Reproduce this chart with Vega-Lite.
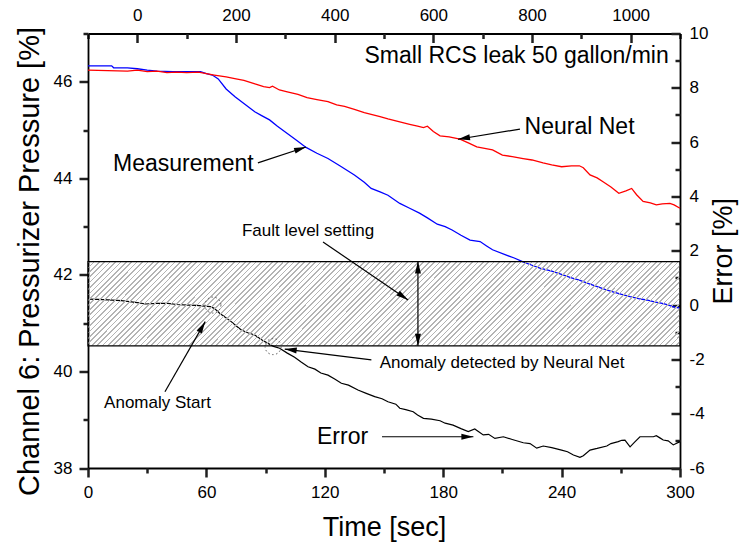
{
  "$schema": "https://vega.github.io/schema/vega-lite/v6.json",
  "width": 592,
  "height": 434.5,
  "autosize": {"type": "none"},
  "padding": {"left": 88, "top": 33.5, "right": 59, "bottom": 76},
  "background": "white",
  "config": {
    "view": {"stroke": null},
    "font": "Liberation Sans",
    "axis": {"domainColor": "black", "domainWidth": 1.8, "labelColor": "black", "labelFontSize": 17, "labelFont": "Liberation Sans", "titleFont": "Liberation Sans", "titleFontSize": 27, "titleFontWeight": "normal", "titleColor": "black", "grid": false, "labelFlush": false, "labelOverlap": false},
    "text": {"font": "Liberation Sans", "color": "black"}
  },
  "datasets": {
    "pressure": [
      {"t":0,"series":"Measurement","v":46.33},{"t":12,"series":"Measurement","v":46.33},{"t":13,"series":"Measurement","v":46.29},{"t":20,"series":"Measurement","v":46.29},{"t":25,"series":"Measurement","v":46.27},{"t":30,"series":"Measurement","v":46.24},{"t":35,"series":"Measurement","v":46.22},{"t":43,"series":"Measurement","v":46.21},{"t":57,"series":"Measurement","v":46.21},{"t":60,"series":"Measurement","v":46.17},{"t":63,"series":"Measurement","v":46.14},{"t":66,"series":"Measurement","v":46.06},{"t":70,"series":"Measurement","v":45.85},{"t":74.5,"series":"Measurement","v":45.69},{"t":80,"series":"Measurement","v":45.52},{"t":84.5,"series":"Measurement","v":45.38},{"t":88,"series":"Measurement","v":45.3},{"t":92,"series":"Measurement","v":45.21},{"t":96,"series":"Measurement","v":45.08},{"t":101,"series":"Measurement","v":44.93},{"t":106,"series":"Measurement","v":44.78},{"t":110.5,"series":"Measurement","v":44.64},{"t":116,"series":"Measurement","v":44.52},{"t":121.6,"series":"Measurement","v":44.41},{"t":128,"series":"Measurement","v":44.25},{"t":135,"series":"Measurement","v":44.07},{"t":140,"series":"Measurement","v":43.92},{"t":143.5,"series":"Measurement","v":43.79},{"t":148,"series":"Measurement","v":43.72},{"t":152,"series":"Measurement","v":43.65},{"t":158,"series":"Measurement","v":43.48},{"t":163,"series":"Measurement","v":43.38},{"t":168,"series":"Measurement","v":43.28},{"t":172,"series":"Measurement","v":43.18},{"t":177,"series":"Measurement","v":43.05},{"t":181,"series":"Measurement","v":43.0},{"t":184.5,"series":"Measurement","v":42.93},{"t":189,"series":"Measurement","v":42.82},{"t":193.6,"series":"Measurement","v":42.72},{"t":198.7,"series":"Measurement","v":42.69},{"t":202,"series":"Measurement","v":42.6},{"t":205,"series":"Measurement","v":42.52},{"t":212,"series":"Measurement","v":42.41},{"t":216,"series":"Measurement","v":42.35},{"t":220.5,"series":"Measurement","v":42.27},{"t":225,"series":"Measurement","v":42.2},{"t":229,"series":"Measurement","v":42.14},{"t":235,"series":"Measurement","v":42.08},{"t":240.7,"series":"Measurement","v":42.0},{"t":245,"series":"Measurement","v":41.94},{"t":249,"series":"Measurement","v":41.89},{"t":253,"series":"Measurement","v":41.83},{"t":257.7,"series":"Measurement","v":41.76},{"t":262,"series":"Measurement","v":41.7},{"t":266,"series":"Measurement","v":41.65},{"t":270,"series":"Measurement","v":41.6},{"t":274.7,"series":"Measurement","v":41.55},{"t":279,"series":"Measurement","v":41.51},{"t":283,"series":"Measurement","v":41.48},{"t":287,"series":"Measurement","v":41.44},{"t":291,"series":"Measurement","v":41.41},{"t":294,"series":"Measurement","v":41.38},{"t":296.5,"series":"Measurement","v":41.34},{"t":300,"series":"Measurement","v":41.31},
      {"t":0,"series":"Neural Net","v":46.24},{"t":10,"series":"Neural Net","v":46.23},{"t":20,"series":"Neural Net","v":46.22},{"t":25,"series":"Neural Net","v":46.24},{"t":30,"series":"Neural Net","v":46.21},{"t":35,"series":"Neural Net","v":46.22},{"t":40,"series":"Neural Net","v":46.19},{"t":45,"series":"Neural Net","v":46.2},{"t":50,"series":"Neural Net","v":46.19},{"t":56,"series":"Neural Net","v":46.2},{"t":60,"series":"Neural Net","v":46.17},{"t":64,"series":"Neural Net","v":46.14},{"t":70,"series":"Neural Net","v":46.1},{"t":75,"series":"Neural Net","v":46.06},{"t":79,"series":"Neural Net","v":46.03},{"t":85,"series":"Neural Net","v":45.95},{"t":89,"series":"Neural Net","v":45.9},{"t":92,"series":"Neural Net","v":45.88},{"t":93.5,"series":"Neural Net","v":45.91},{"t":97,"series":"Neural Net","v":45.83},{"t":101,"series":"Neural Net","v":45.79},{"t":106.4,"series":"Neural Net","v":45.74},{"t":111,"series":"Neural Net","v":45.67},{"t":116,"series":"Neural Net","v":45.63},{"t":121.6,"series":"Neural Net","v":45.59},{"t":126,"series":"Neural Net","v":45.52},{"t":130,"series":"Neural Net","v":45.49},{"t":135,"series":"Neural Net","v":45.43},{"t":140,"series":"Neural Net","v":45.36},{"t":145,"series":"Neural Net","v":45.31},{"t":148,"series":"Neural Net","v":45.28},{"t":152,"series":"Neural Net","v":45.23},{"t":158,"series":"Neural Net","v":45.17},{"t":163,"series":"Neural Net","v":45.12},{"t":167,"series":"Neural Net","v":45.08},{"t":170,"series":"Neural Net","v":45.05},{"t":172,"series":"Neural Net","v":45.08},{"t":175,"series":"Neural Net","v":44.97},{"t":178.4,"series":"Neural Net","v":44.88},{"t":183,"series":"Neural Net","v":44.86},{"t":188.5,"series":"Neural Net","v":44.81},{"t":193,"series":"Neural Net","v":44.73},{"t":197,"series":"Neural Net","v":44.65},{"t":201,"series":"Neural Net","v":44.62},{"t":205,"series":"Neural Net","v":44.59},{"t":210,"series":"Neural Net","v":44.48},{"t":215,"series":"Neural Net","v":44.45},{"t":220.5,"series":"Neural Net","v":44.41},{"t":225,"series":"Neural Net","v":44.38},{"t":230.6,"series":"Neural Net","v":44.32},{"t":235,"series":"Neural Net","v":44.28},{"t":240,"series":"Neural Net","v":44.24},{"t":245,"series":"Neural Net","v":44.26},{"t":249,"series":"Neural Net","v":44.26},{"t":251,"series":"Neural Net","v":44.22},{"t":254.4,"series":"Neural Net","v":44.07},{"t":258,"series":"Neural Net","v":44.01},{"t":261,"series":"Neural Net","v":43.93},{"t":265,"series":"Neural Net","v":43.82},{"t":269,"series":"Neural Net","v":43.69},{"t":272.6,"series":"Neural Net","v":43.74},{"t":275.5,"series":"Neural Net","v":43.79},{"t":278,"series":"Neural Net","v":43.66},{"t":281.3,"series":"Neural Net","v":43.52},{"t":285,"series":"Neural Net","v":43.49},{"t":288,"series":"Neural Net","v":43.45},{"t":291,"series":"Neural Net","v":43.47},{"t":294.9,"series":"Neural Net","v":43.48},{"t":297,"series":"Neural Net","v":43.45},{"t":300,"series":"Neural Net","v":43.38}
    ],
    "err": [
      {"t":0,"e":0.22},{"t":5,"e":0.21},{"t":10,"e":0.19},{"t":17,"e":0.16},{"t":22,"e":0.12},{"t":26,"e":0.08},{"t":29,"e":0.04},{"t":35,"e":0.06},{"t":40.5,"e":0.06},{"t":45,"e":0.02},{"t":50.7,"e":0.0},{"t":55,"e":-0.01},{"t":59,"e":-0.04},{"t":62,"e":-0.06},{"t":64,"e":-0.12},{"t":66.7,"e":-0.3},{"t":69,"e":-0.42},{"t":72.6,"e":-0.61},{"t":75,"e":-0.76},{"t":77.7,"e":-0.92},{"t":81,"e":-1.02},{"t":84.5,"e":-1.1},{"t":88,"e":-1.28},{"t":91.2,"e":-1.41},{"t":94,"e":-1.52},{"t":97.1,"e":-1.59},{"t":101,"e":-1.77},{"t":104.7,"e":-1.92},{"t":108,"e":-2.1},{"t":111.5,"e":-2.27},{"t":115,"e":-2.36},{"t":118,"e":-2.5},{"t":121.6,"e":-2.58},{"t":125,"e":-2.72},{"t":128.4,"e":-2.88},{"t":132,"e":-2.95},{"t":136.8,"e":-3.13},{"t":141,"e":-3.25},{"t":145.3,"e":-3.37},{"t":149,"e":-3.45},{"t":152,"e":-3.56},{"t":156,"e":-3.65},{"t":158,"e":-3.8},{"t":161,"e":-3.85},{"t":164.8,"e":-3.93},{"t":167,"e":-4.05},{"t":170,"e":-4.17},{"t":174,"e":-4.2},{"t":178.4,"e":-4.26},{"t":181,"e":-4.35},{"t":185,"e":-4.42},{"t":189,"e":-4.55},{"t":192.7,"e":-4.66},{"t":196,"e":-4.56},{"t":200.3,"e":-4.78},{"t":203,"e":-4.76},{"t":206.2,"e":-4.91},{"t":210.5,"e":-4.85},{"t":215,"e":-4.95},{"t":220.6,"e":-5.07},{"t":224,"e":-5.1},{"t":227.4,"e":-5.27},{"t":230.7,"e":-5.19},{"t":235,"e":-5.25},{"t":240,"e":-5.34},{"t":243,"e":-5.4},{"t":246,"e":-5.52},{"t":249.3,"e":-5.61},{"t":251,"e":-5.55},{"t":254.4,"e":-5.34},{"t":258,"e":-5.28},{"t":262.9,"e":-5.19},{"t":265,"e":-5.1},{"t":268.7,"e":-5.03},{"t":270.5,"e":-4.98},{"t":272.1,"e":-4.97},{"t":274.7,"e":-5.22},{"t":277,"e":-5.05},{"t":279.7,"e":-4.85},{"t":283,"e":-4.85},{"t":286.5,"e":-4.85},{"t":288,"e":-4.81},{"t":290,"e":-4.9},{"t":291.5,"e":-4.97},{"t":294,"e":-5.0},{"t":296.6,"e":-5.15},{"t":300,"e":-5.03}
    ],
    "notesP": [
      {"label":"Small RCS leak 50 gallon/min","t":217.2,"v":46.53},
      {"label":"Measurement","t":48.3,"v":44.3},
      {"label":"Neural Net","t":249.1,"v":45.07}
    ],
    "arrowsP": [
      {"id":"meas","t":86.1,"v":44.32,"t2":110.5,"v2":44.65},
      {"id":"nn","t":218.9,"v":45.02,"t2":187.5,"v2":44.81}
    ],
    "notesE": [
      {"label":"Fault level setting","t":111.5,"e":2.74},
      {"label":"Anomaly Start","t":35.2,"e":-3.62},
      {"label":"Anomaly detected by Neural Net","t":209.8,"e":-2.15}
    ],
    "notesE2": [
      {"label":"Error","t":129.0,"e":-4.87}
    ],
    "arrowsE": [
      {"id":"fault","t":119.1,"e":2.32,"t2":162.2,"e2":0.19},
      {"id":"band","t":167.2,"e":1.6,"t2":167.2,"e2":-1.5},
      {"id":"start","t":39.0,"e":-3.19,"t2":59.4,"e2":-0.61},
      {"id":"detect","t":143.6,"e":-2.02,"t2":99.7,"e2":-1.62},
      {"id":"error","t":149.0,"e":-4.85,"t2":195.3,"e2":-4.85}
    ],
    "band": [
      {"t":0,"t2":300,"e":-1.5,"e2":1.6}
    ],
    "events": [
      {"event":"Anomaly start","t":63.3,"e":0.0},
      {"event":"Anomaly detected","t":93.8,"e":-1.53}
    ],
    "frame": [
      {"t":0,"v":38,"e":-6,"k":-100}
    ]
  },
  "resolve": {"scale": {"x": "independent", "y": "independent"}, "axis": {"x": "independent", "y": "independent"}},
  "layer": [
    {
      "data": {"name": "pressure"},
      "encoding": {
        "x": {"field": "t", "type": "quantitative", "scale": {"domain": [0, 300], "nice": false, "zero": false},
          "axis": {"orient": "bottom", "title": "Time [sec]", "values": [0,60,120,180,240,300], "labelExpr": "'' + datum.value", "ticks": true, "tickSize": 9, "tickColor": "#202020", "tickWidth": 2.5, "labelPadding": 7, "titlePadding": 14}},
        "y": {"field": "v", "type": "quantitative", "scale": {"domain": [38, 47], "nice": false, "zero": false},
          "axis": {"orient": "left", "title": "Channel 6: Pressurizer Pressure [%]", "titleFontSize": 29, "titleY": 227.5, "values": [38,40,42,44,46], "labelExpr": "'' + datum.value", "ticks": true, "tickSize": 9, "tickColor": "#202020", "tickWidth": 2.5, "labelPadding": 7, "titlePadding": 9}}
      },
      "layer": [
        {"mark": {"type": "line", "strokeWidth": 1.3},
          "encoding": {"color": {"field": "series", "type": "nominal", "scale": {"domain": ["Measurement", "Neural Net"], "range": ["#0000ff", "#ff0000"]}, "legend": null}}},
        {"data": {"name": "notesP"}, "mark": {"type": "text", "fontSize": 23, "align": "center", "baseline": "middle", "color": "black"},
          "encoding": {"text": {"field": "label"}}},
        {"data": {"name": "arrowsP"}, "mark": {"type": "rule", "color": "black", "strokeWidth": 1.2},
          "encoding": {"x2": {"field": "t2"}, "y2": {"field": "v2"}}},
        {"data": {"name": "arrowsP"}, "transform": [{"filter": "datum.id === 'meas'"}],
          "mark": {"type": "point", "shape": "M0,0L-1,-0.25L-1,0.25Z", "size": 576, "filled": true, "color": "black", "opacity": 1, "angle": -18.4},
          "encoding": {"x": {"field": "t2", "type": "quantitative"}, "y": {"field": "v2", "type": "quantitative"}}},
        {"data": {"name": "arrowsP"}, "transform": [{"filter": "datum.id === 'nn'"}],
          "mark": {"type": "point", "shape": "M0,0L-1,-0.25L-1,0.25Z", "size": 576, "filled": true, "color": "black", "opacity": 1, "angle": 170.8},
          "encoding": {"x": {"field": "t2", "type": "quantitative"}, "y": {"field": "v2", "type": "quantitative"}}}
      ]
    },
    {
      "data": {"name": "err"},
      "encoding": {
        "x": {"field": "t", "type": "quantitative", "scale": {"domain": [0, 300], "nice": false, "zero": false}, "axis": null},
        "y": {"field": "e", "type": "quantitative", "scale": {"domain": [-6, 10], "nice": false, "zero": false},
          "axis": {"orient": "right", "title": "Error [%]", "titleAngle": -90, "titleBaseline": "top", "values": [-6,-4,-2,0,2,4,6,8,10], "labelExpr": "'' + datum.value", "ticks": true, "tickSize": -9, "tickColor": "#202020", "tickWidth": 2.5, "labelPadding": 18, "titlePadding": 3}}
      },
      "layer": [
        {"mark": {"type": "line", "color": "black", "strokeWidth": 1.2}},
        {"data": {"name": "band"},
          "mark": {"type": "rect", "stroke": "black", "strokeWidth": 1.2,
            "fill": {"gradient": "linear", "x1": 0, "y1": 0, "x2": 1.1194, "y2": 0.1588, "stops": [
{"offset":0,"color":"#b4b4b4"},{"offset":0.0025,"color":"#b4b4b4"},{"offset":0.0025,"color":"#0000"},{"offset":0.008,"color":"#0000"},
{"offset":0.008,"color":"#b4b4b4"},{"offset":0.0105,"color":"#b4b4b4"},{"offset":0.0105,"color":"#0000"},{"offset":0.016,"color":"#0000"},
{"offset":0.016,"color":"#b4b4b4"},{"offset":0.0185,"color":"#b4b4b4"},{"offset":0.0185,"color":"#0000"},{"offset":0.024,"color":"#0000"},
{"offset":0.024,"color":"#b4b4b4"},{"offset":0.0265,"color":"#b4b4b4"},{"offset":0.0265,"color":"#0000"},{"offset":0.032,"color":"#0000"},
{"offset":0.032,"color":"#b4b4b4"},{"offset":0.0345,"color":"#b4b4b4"},{"offset":0.0345,"color":"#0000"},{"offset":0.04,"color":"#0000"},
{"offset":0.04,"color":"#b4b4b4"},{"offset":0.0425,"color":"#b4b4b4"},{"offset":0.0425,"color":"#0000"},{"offset":0.048,"color":"#0000"},
{"offset":0.048,"color":"#b4b4b4"},{"offset":0.0505,"color":"#b4b4b4"},{"offset":0.0505,"color":"#0000"},{"offset":0.056,"color":"#0000"},
{"offset":0.056,"color":"#b4b4b4"},{"offset":0.0585,"color":"#b4b4b4"},{"offset":0.0585,"color":"#0000"},{"offset":0.064,"color":"#0000"},
{"offset":0.064,"color":"#b4b4b4"},{"offset":0.0665,"color":"#b4b4b4"},{"offset":0.0665,"color":"#0000"},{"offset":0.072,"color":"#0000"},
{"offset":0.072,"color":"#b4b4b4"},{"offset":0.0745,"color":"#b4b4b4"},{"offset":0.0745,"color":"#0000"},{"offset":0.08,"color":"#0000"},
{"offset":0.08,"color":"#b4b4b4"},{"offset":0.0825,"color":"#b4b4b4"},{"offset":0.0825,"color":"#0000"},{"offset":0.088,"color":"#0000"},
{"offset":0.088,"color":"#b4b4b4"},{"offset":0.0905,"color":"#b4b4b4"},{"offset":0.0905,"color":"#0000"},{"offset":0.096,"color":"#0000"},
{"offset":0.096,"color":"#b4b4b4"},{"offset":0.0985,"color":"#b4b4b4"},{"offset":0.0985,"color":"#0000"},{"offset":0.104,"color":"#0000"},
{"offset":0.104,"color":"#b4b4b4"},{"offset":0.1065,"color":"#b4b4b4"},{"offset":0.1065,"color":"#0000"},{"offset":0.112,"color":"#0000"},
{"offset":0.112,"color":"#b4b4b4"},{"offset":0.1145,"color":"#b4b4b4"},{"offset":0.1145,"color":"#0000"},{"offset":0.12,"color":"#0000"},
{"offset":0.12,"color":"#b4b4b4"},{"offset":0.1225,"color":"#b4b4b4"},{"offset":0.1225,"color":"#0000"},{"offset":0.128,"color":"#0000"},
{"offset":0.128,"color":"#b4b4b4"},{"offset":0.1305,"color":"#b4b4b4"},{"offset":0.1305,"color":"#0000"},{"offset":0.136,"color":"#0000"},
{"offset":0.136,"color":"#b4b4b4"},{"offset":0.1385,"color":"#b4b4b4"},{"offset":0.1385,"color":"#0000"},{"offset":0.144,"color":"#0000"},
{"offset":0.144,"color":"#b4b4b4"},{"offset":0.1465,"color":"#b4b4b4"},{"offset":0.1465,"color":"#0000"},{"offset":0.152,"color":"#0000"},
{"offset":0.152,"color":"#b4b4b4"},{"offset":0.1545,"color":"#b4b4b4"},{"offset":0.1545,"color":"#0000"},{"offset":0.16,"color":"#0000"},
{"offset":0.16,"color":"#b4b4b4"},{"offset":0.1625,"color":"#b4b4b4"},{"offset":0.1625,"color":"#0000"},{"offset":0.168,"color":"#0000"},
{"offset":0.168,"color":"#b4b4b4"},{"offset":0.1705,"color":"#b4b4b4"},{"offset":0.1705,"color":"#0000"},{"offset":0.176,"color":"#0000"},
{"offset":0.176,"color":"#b4b4b4"},{"offset":0.1785,"color":"#b4b4b4"},{"offset":0.1785,"color":"#0000"},{"offset":0.184,"color":"#0000"},
{"offset":0.184,"color":"#b4b4b4"},{"offset":0.1865,"color":"#b4b4b4"},{"offset":0.1865,"color":"#0000"},{"offset":0.192,"color":"#0000"},
{"offset":0.192,"color":"#b4b4b4"},{"offset":0.1945,"color":"#b4b4b4"},{"offset":0.1945,"color":"#0000"},{"offset":0.2,"color":"#0000"},
{"offset":0.2,"color":"#b4b4b4"},{"offset":0.2025,"color":"#b4b4b4"},{"offset":0.2025,"color":"#0000"},{"offset":0.208,"color":"#0000"},
{"offset":0.208,"color":"#b4b4b4"},{"offset":0.2105,"color":"#b4b4b4"},{"offset":0.2105,"color":"#0000"},{"offset":0.216,"color":"#0000"},
{"offset":0.216,"color":"#b4b4b4"},{"offset":0.2185,"color":"#b4b4b4"},{"offset":0.2185,"color":"#0000"},{"offset":0.224,"color":"#0000"},
{"offset":0.224,"color":"#b4b4b4"},{"offset":0.2265,"color":"#b4b4b4"},{"offset":0.2265,"color":"#0000"},{"offset":0.232,"color":"#0000"},
{"offset":0.232,"color":"#b4b4b4"},{"offset":0.2345,"color":"#b4b4b4"},{"offset":0.2345,"color":"#0000"},{"offset":0.24,"color":"#0000"},
{"offset":0.24,"color":"#b4b4b4"},{"offset":0.2425,"color":"#b4b4b4"},{"offset":0.2425,"color":"#0000"},{"offset":0.248,"color":"#0000"},
{"offset":0.248,"color":"#b4b4b4"},{"offset":0.2505,"color":"#b4b4b4"},{"offset":0.2505,"color":"#0000"},{"offset":0.256,"color":"#0000"},
{"offset":0.256,"color":"#b4b4b4"},{"offset":0.2585,"color":"#b4b4b4"},{"offset":0.2585,"color":"#0000"},{"offset":0.264,"color":"#0000"},
{"offset":0.264,"color":"#b4b4b4"},{"offset":0.2665,"color":"#b4b4b4"},{"offset":0.2665,"color":"#0000"},{"offset":0.272,"color":"#0000"},
{"offset":0.272,"color":"#b4b4b4"},{"offset":0.2745,"color":"#b4b4b4"},{"offset":0.2745,"color":"#0000"},{"offset":0.28,"color":"#0000"},
{"offset":0.28,"color":"#b4b4b4"},{"offset":0.2825,"color":"#b4b4b4"},{"offset":0.2825,"color":"#0000"},{"offset":0.288,"color":"#0000"},
{"offset":0.288,"color":"#b4b4b4"},{"offset":0.2905,"color":"#b4b4b4"},{"offset":0.2905,"color":"#0000"},{"offset":0.296,"color":"#0000"},
{"offset":0.296,"color":"#b4b4b4"},{"offset":0.2985,"color":"#b4b4b4"},{"offset":0.2985,"color":"#0000"},{"offset":0.304,"color":"#0000"},
{"offset":0.304,"color":"#b4b4b4"},{"offset":0.3065,"color":"#b4b4b4"},{"offset":0.3065,"color":"#0000"},{"offset":0.312,"color":"#0000"},
{"offset":0.312,"color":"#b4b4b4"},{"offset":0.3145,"color":"#b4b4b4"},{"offset":0.3145,"color":"#0000"},{"offset":0.32,"color":"#0000"},
{"offset":0.32,"color":"#b4b4b4"},{"offset":0.3225,"color":"#b4b4b4"},{"offset":0.3225,"color":"#0000"},{"offset":0.328,"color":"#0000"},
{"offset":0.328,"color":"#b4b4b4"},{"offset":0.3305,"color":"#b4b4b4"},{"offset":0.3305,"color":"#0000"},{"offset":0.336,"color":"#0000"},
{"offset":0.336,"color":"#b4b4b4"},{"offset":0.3385,"color":"#b4b4b4"},{"offset":0.3385,"color":"#0000"},{"offset":0.344,"color":"#0000"},
{"offset":0.344,"color":"#b4b4b4"},{"offset":0.3465,"color":"#b4b4b4"},{"offset":0.3465,"color":"#0000"},{"offset":0.352,"color":"#0000"},
{"offset":0.352,"color":"#b4b4b4"},{"offset":0.3545,"color":"#b4b4b4"},{"offset":0.3545,"color":"#0000"},{"offset":0.36,"color":"#0000"},
{"offset":0.36,"color":"#b4b4b4"},{"offset":0.3625,"color":"#b4b4b4"},{"offset":0.3625,"color":"#0000"},{"offset":0.368,"color":"#0000"},
{"offset":0.368,"color":"#b4b4b4"},{"offset":0.3705,"color":"#b4b4b4"},{"offset":0.3705,"color":"#0000"},{"offset":0.376,"color":"#0000"},
{"offset":0.376,"color":"#b4b4b4"},{"offset":0.3785,"color":"#b4b4b4"},{"offset":0.3785,"color":"#0000"},{"offset":0.384,"color":"#0000"},
{"offset":0.384,"color":"#b4b4b4"},{"offset":0.3865,"color":"#b4b4b4"},{"offset":0.3865,"color":"#0000"},{"offset":0.392,"color":"#0000"},
{"offset":0.392,"color":"#b4b4b4"},{"offset":0.3945,"color":"#b4b4b4"},{"offset":0.3945,"color":"#0000"},{"offset":0.4,"color":"#0000"},
{"offset":0.4,"color":"#b4b4b4"},{"offset":0.4025,"color":"#b4b4b4"},{"offset":0.4025,"color":"#0000"},{"offset":0.408,"color":"#0000"},
{"offset":0.408,"color":"#b4b4b4"},{"offset":0.4105,"color":"#b4b4b4"},{"offset":0.4105,"color":"#0000"},{"offset":0.416,"color":"#0000"},
{"offset":0.416,"color":"#b4b4b4"},{"offset":0.4185,"color":"#b4b4b4"},{"offset":0.4185,"color":"#0000"},{"offset":0.424,"color":"#0000"},
{"offset":0.424,"color":"#b4b4b4"},{"offset":0.4265,"color":"#b4b4b4"},{"offset":0.4265,"color":"#0000"},{"offset":0.432,"color":"#0000"},
{"offset":0.432,"color":"#b4b4b4"},{"offset":0.4345,"color":"#b4b4b4"},{"offset":0.4345,"color":"#0000"},{"offset":0.44,"color":"#0000"},
{"offset":0.44,"color":"#b4b4b4"},{"offset":0.4425,"color":"#b4b4b4"},{"offset":0.4425,"color":"#0000"},{"offset":0.448,"color":"#0000"},
{"offset":0.448,"color":"#b4b4b4"},{"offset":0.4505,"color":"#b4b4b4"},{"offset":0.4505,"color":"#0000"},{"offset":0.456,"color":"#0000"},
{"offset":0.456,"color":"#b4b4b4"},{"offset":0.4585,"color":"#b4b4b4"},{"offset":0.4585,"color":"#0000"},{"offset":0.464,"color":"#0000"},
{"offset":0.464,"color":"#b4b4b4"},{"offset":0.4665,"color":"#b4b4b4"},{"offset":0.4665,"color":"#0000"},{"offset":0.472,"color":"#0000"},
{"offset":0.472,"color":"#b4b4b4"},{"offset":0.4745,"color":"#b4b4b4"},{"offset":0.4745,"color":"#0000"},{"offset":0.48,"color":"#0000"},
{"offset":0.48,"color":"#b4b4b4"},{"offset":0.4825,"color":"#b4b4b4"},{"offset":0.4825,"color":"#0000"},{"offset":0.488,"color":"#0000"},
{"offset":0.488,"color":"#b4b4b4"},{"offset":0.4905,"color":"#b4b4b4"},{"offset":0.4905,"color":"#0000"},{"offset":0.496,"color":"#0000"},
{"offset":0.496,"color":"#b4b4b4"},{"offset":0.4985,"color":"#b4b4b4"},{"offset":0.4985,"color":"#0000"},{"offset":0.504,"color":"#0000"},
{"offset":0.504,"color":"#b4b4b4"},{"offset":0.5065,"color":"#b4b4b4"},{"offset":0.5065,"color":"#0000"},{"offset":0.512,"color":"#0000"},
{"offset":0.512,"color":"#b4b4b4"},{"offset":0.5145,"color":"#b4b4b4"},{"offset":0.5145,"color":"#0000"},{"offset":0.52,"color":"#0000"},
{"offset":0.52,"color":"#b4b4b4"},{"offset":0.5225,"color":"#b4b4b4"},{"offset":0.5225,"color":"#0000"},{"offset":0.528,"color":"#0000"},
{"offset":0.528,"color":"#b4b4b4"},{"offset":0.5305,"color":"#b4b4b4"},{"offset":0.5305,"color":"#0000"},{"offset":0.536,"color":"#0000"},
{"offset":0.536,"color":"#b4b4b4"},{"offset":0.5385,"color":"#b4b4b4"},{"offset":0.5385,"color":"#0000"},{"offset":0.544,"color":"#0000"},
{"offset":0.544,"color":"#b4b4b4"},{"offset":0.5465,"color":"#b4b4b4"},{"offset":0.5465,"color":"#0000"},{"offset":0.552,"color":"#0000"},
{"offset":0.552,"color":"#b4b4b4"},{"offset":0.5545,"color":"#b4b4b4"},{"offset":0.5545,"color":"#0000"},{"offset":0.56,"color":"#0000"},
{"offset":0.56,"color":"#b4b4b4"},{"offset":0.5625,"color":"#b4b4b4"},{"offset":0.5625,"color":"#0000"},{"offset":0.568,"color":"#0000"},
{"offset":0.568,"color":"#b4b4b4"},{"offset":0.5705,"color":"#b4b4b4"},{"offset":0.5705,"color":"#0000"},{"offset":0.576,"color":"#0000"},
{"offset":0.576,"color":"#b4b4b4"},{"offset":0.5785,"color":"#b4b4b4"},{"offset":0.5785,"color":"#0000"},{"offset":0.584,"color":"#0000"},
{"offset":0.584,"color":"#b4b4b4"},{"offset":0.5865,"color":"#b4b4b4"},{"offset":0.5865,"color":"#0000"},{"offset":0.592,"color":"#0000"},
{"offset":0.592,"color":"#b4b4b4"},{"offset":0.5945,"color":"#b4b4b4"},{"offset":0.5945,"color":"#0000"},{"offset":0.6,"color":"#0000"},
{"offset":0.6,"color":"#b4b4b4"},{"offset":0.6025,"color":"#b4b4b4"},{"offset":0.6025,"color":"#0000"},{"offset":0.608,"color":"#0000"},
{"offset":0.608,"color":"#b4b4b4"},{"offset":0.6105,"color":"#b4b4b4"},{"offset":0.6105,"color":"#0000"},{"offset":0.616,"color":"#0000"},
{"offset":0.616,"color":"#b4b4b4"},{"offset":0.6185,"color":"#b4b4b4"},{"offset":0.6185,"color":"#0000"},{"offset":0.624,"color":"#0000"},
{"offset":0.624,"color":"#b4b4b4"},{"offset":0.6265,"color":"#b4b4b4"},{"offset":0.6265,"color":"#0000"},{"offset":0.632,"color":"#0000"},
{"offset":0.632,"color":"#b4b4b4"},{"offset":0.6345,"color":"#b4b4b4"},{"offset":0.6345,"color":"#0000"},{"offset":0.64,"color":"#0000"},
{"offset":0.64,"color":"#b4b4b4"},{"offset":0.6425,"color":"#b4b4b4"},{"offset":0.6425,"color":"#0000"},{"offset":0.648,"color":"#0000"},
{"offset":0.648,"color":"#b4b4b4"},{"offset":0.6505,"color":"#b4b4b4"},{"offset":0.6505,"color":"#0000"},{"offset":0.656,"color":"#0000"},
{"offset":0.656,"color":"#b4b4b4"},{"offset":0.6585,"color":"#b4b4b4"},{"offset":0.6585,"color":"#0000"},{"offset":0.664,"color":"#0000"},
{"offset":0.664,"color":"#b4b4b4"},{"offset":0.6665,"color":"#b4b4b4"},{"offset":0.6665,"color":"#0000"},{"offset":0.672,"color":"#0000"},
{"offset":0.672,"color":"#b4b4b4"},{"offset":0.6745,"color":"#b4b4b4"},{"offset":0.6745,"color":"#0000"},{"offset":0.68,"color":"#0000"},
{"offset":0.68,"color":"#b4b4b4"},{"offset":0.6825,"color":"#b4b4b4"},{"offset":0.6825,"color":"#0000"},{"offset":0.688,"color":"#0000"},
{"offset":0.688,"color":"#b4b4b4"},{"offset":0.6905,"color":"#b4b4b4"},{"offset":0.6905,"color":"#0000"},{"offset":0.696,"color":"#0000"},
{"offset":0.696,"color":"#b4b4b4"},{"offset":0.6985,"color":"#b4b4b4"},{"offset":0.6985,"color":"#0000"},{"offset":0.704,"color":"#0000"},
{"offset":0.704,"color":"#b4b4b4"},{"offset":0.7065,"color":"#b4b4b4"},{"offset":0.7065,"color":"#0000"},{"offset":0.712,"color":"#0000"},
{"offset":0.712,"color":"#b4b4b4"},{"offset":0.7145,"color":"#b4b4b4"},{"offset":0.7145,"color":"#0000"},{"offset":0.72,"color":"#0000"},
{"offset":0.72,"color":"#b4b4b4"},{"offset":0.7225,"color":"#b4b4b4"},{"offset":0.7225,"color":"#0000"},{"offset":0.728,"color":"#0000"},
{"offset":0.728,"color":"#b4b4b4"},{"offset":0.7305,"color":"#b4b4b4"},{"offset":0.7305,"color":"#0000"},{"offset":0.736,"color":"#0000"},
{"offset":0.736,"color":"#b4b4b4"},{"offset":0.7385,"color":"#b4b4b4"},{"offset":0.7385,"color":"#0000"},{"offset":0.744,"color":"#0000"},
{"offset":0.744,"color":"#b4b4b4"},{"offset":0.7465,"color":"#b4b4b4"},{"offset":0.7465,"color":"#0000"},{"offset":0.752,"color":"#0000"},
{"offset":0.752,"color":"#b4b4b4"},{"offset":0.7545,"color":"#b4b4b4"},{"offset":0.7545,"color":"#0000"},{"offset":0.76,"color":"#0000"},
{"offset":0.76,"color":"#b4b4b4"},{"offset":0.7625,"color":"#b4b4b4"},{"offset":0.7625,"color":"#0000"},{"offset":0.768,"color":"#0000"},
{"offset":0.768,"color":"#b4b4b4"},{"offset":0.7705,"color":"#b4b4b4"},{"offset":0.7705,"color":"#0000"},{"offset":0.776,"color":"#0000"},
{"offset":0.776,"color":"#b4b4b4"},{"offset":0.7785,"color":"#b4b4b4"},{"offset":0.7785,"color":"#0000"},{"offset":0.784,"color":"#0000"},
{"offset":0.784,"color":"#b4b4b4"},{"offset":0.7865,"color":"#b4b4b4"},{"offset":0.7865,"color":"#0000"},{"offset":0.792,"color":"#0000"},
{"offset":0.792,"color":"#b4b4b4"},{"offset":0.7945,"color":"#b4b4b4"},{"offset":0.7945,"color":"#0000"},{"offset":0.8,"color":"#0000"},
{"offset":0.8,"color":"#b4b4b4"},{"offset":0.8025,"color":"#b4b4b4"},{"offset":0.8025,"color":"#0000"},{"offset":0.808,"color":"#0000"},
{"offset":0.808,"color":"#b4b4b4"},{"offset":0.8105,"color":"#b4b4b4"},{"offset":0.8105,"color":"#0000"},{"offset":0.816,"color":"#0000"},
{"offset":0.816,"color":"#b4b4b4"},{"offset":0.8185,"color":"#b4b4b4"},{"offset":0.8185,"color":"#0000"},{"offset":0.824,"color":"#0000"},
{"offset":0.824,"color":"#b4b4b4"},{"offset":0.8265,"color":"#b4b4b4"},{"offset":0.8265,"color":"#0000"},{"offset":0.832,"color":"#0000"},
{"offset":0.832,"color":"#b4b4b4"},{"offset":0.8345,"color":"#b4b4b4"},{"offset":0.8345,"color":"#0000"},{"offset":0.84,"color":"#0000"},
{"offset":0.84,"color":"#b4b4b4"},{"offset":0.8425,"color":"#b4b4b4"},{"offset":0.8425,"color":"#0000"},{"offset":0.848,"color":"#0000"},
{"offset":0.848,"color":"#b4b4b4"},{"offset":0.8505,"color":"#b4b4b4"},{"offset":0.8505,"color":"#0000"},{"offset":0.856,"color":"#0000"},
{"offset":0.856,"color":"#b4b4b4"},{"offset":0.8585,"color":"#b4b4b4"},{"offset":0.8585,"color":"#0000"},{"offset":0.864,"color":"#0000"},
{"offset":0.864,"color":"#b4b4b4"},{"offset":0.8665,"color":"#b4b4b4"},{"offset":0.8665,"color":"#0000"},{"offset":0.872,"color":"#0000"},
{"offset":0.872,"color":"#b4b4b4"},{"offset":0.8745,"color":"#b4b4b4"},{"offset":0.8745,"color":"#0000"},{"offset":0.88,"color":"#0000"},
{"offset":0.88,"color":"#b4b4b4"},{"offset":0.8825,"color":"#b4b4b4"},{"offset":0.8825,"color":"#0000"},{"offset":0.888,"color":"#0000"},
{"offset":0.888,"color":"#b4b4b4"},{"offset":0.8905,"color":"#b4b4b4"},{"offset":0.8905,"color":"#0000"},{"offset":0.896,"color":"#0000"},
{"offset":0.896,"color":"#b4b4b4"},{"offset":0.8985,"color":"#b4b4b4"},{"offset":0.8985,"color":"#0000"},{"offset":0.904,"color":"#0000"},
{"offset":0.904,"color":"#b4b4b4"},{"offset":0.9065,"color":"#b4b4b4"},{"offset":0.9065,"color":"#0000"},{"offset":0.912,"color":"#0000"},
{"offset":0.912,"color":"#b4b4b4"},{"offset":0.9145,"color":"#b4b4b4"},{"offset":0.9145,"color":"#0000"},{"offset":0.92,"color":"#0000"},
{"offset":0.92,"color":"#b4b4b4"},{"offset":0.9225,"color":"#b4b4b4"},{"offset":0.9225,"color":"#0000"},{"offset":0.928,"color":"#0000"},
{"offset":0.928,"color":"#b4b4b4"},{"offset":0.9305,"color":"#b4b4b4"},{"offset":0.9305,"color":"#0000"},{"offset":0.936,"color":"#0000"},
{"offset":0.936,"color":"#b4b4b4"},{"offset":0.9385,"color":"#b4b4b4"},{"offset":0.9385,"color":"#0000"},{"offset":0.944,"color":"#0000"},
{"offset":0.944,"color":"#b4b4b4"},{"offset":0.9465,"color":"#b4b4b4"},{"offset":0.9465,"color":"#0000"},{"offset":0.952,"color":"#0000"},
{"offset":0.952,"color":"#b4b4b4"},{"offset":0.9545,"color":"#b4b4b4"},{"offset":0.9545,"color":"#0000"},{"offset":0.96,"color":"#0000"},
{"offset":0.96,"color":"#b4b4b4"},{"offset":0.9625,"color":"#b4b4b4"},{"offset":0.9625,"color":"#0000"},{"offset":0.968,"color":"#0000"},
{"offset":0.968,"color":"#b4b4b4"},{"offset":0.9705,"color":"#b4b4b4"},{"offset":0.9705,"color":"#0000"},{"offset":0.976,"color":"#0000"},
{"offset":0.976,"color":"#b4b4b4"},{"offset":0.9785,"color":"#b4b4b4"},{"offset":0.9785,"color":"#0000"},{"offset":0.984,"color":"#0000"},
{"offset":0.984,"color":"#b4b4b4"},{"offset":0.9865,"color":"#b4b4b4"},{"offset":0.9865,"color":"#0000"},{"offset":0.992,"color":"#0000"},
{"offset":0.992,"color":"#b4b4b4"},{"offset":0.9945,"color":"#b4b4b4"},{"offset":0.9945,"color":"#0000"},{"offset":1,"color":"#0000"}
            ]}},
          "encoding": {"x2": {"field": "t2"}, "y2": {"field": "e2"}}},
        {"data": {"name": "arrowsE"}, "mark": {"type": "rule", "color": "black", "strokeWidth": 1.2},
          "encoding": {"x2": {"field": "t2"}, "y2": {"field": "e2"}}},
        {"data": {"name": "arrowsE"}, "transform": [{"filter": "datum.id === 'fault'"}],
          "mark": {"type": "point", "shape": "M0,0L-1,-0.25L-1,0.25Z", "size": 576, "filled": true, "color": "black", "opacity": 1, "angle": 34.3},
          "encoding": {"x": {"field": "t2", "type": "quantitative"}, "y": {"field": "e2", "type": "quantitative"}}},
        {"data": {"name": "arrowsE"}, "transform": [{"filter": "datum.id === 'band'"}],
          "mark": {"type": "point", "shape": "M0,0L-1,-0.25L-1,0.25Z", "size": 576, "filled": true, "color": "black", "opacity": 1, "angle": -90}},
        {"data": {"name": "arrowsE"}, "transform": [{"filter": "datum.id === 'band'"}],
          "mark": {"type": "point", "shape": "M0,0L-1,-0.25L-1,0.25Z", "size": 576, "filled": true, "color": "black", "opacity": 1, "angle": 90},
          "encoding": {"x": {"field": "t2", "type": "quantitative"}, "y": {"field": "e2", "type": "quantitative"}}},
        {"data": {"name": "arrowsE"}, "transform": [{"filter": "datum.id === 'start'"}],
          "mark": {"type": "point", "shape": "M0,0L-1,-0.25L-1,0.25Z", "size": 576, "filled": true, "color": "black", "opacity": 1, "angle": -60},
          "encoding": {"x": {"field": "t2", "type": "quantitative"}, "y": {"field": "e2", "type": "quantitative"}}},
        {"data": {"name": "arrowsE"}, "transform": [{"filter": "datum.id === 'detect'"}],
          "mark": {"type": "point", "shape": "M0,0L-1,-0.25L-1,0.25Z", "size": 576, "filled": true, "color": "black", "opacity": 1, "angle": 187.2},
          "encoding": {"x": {"field": "t2", "type": "quantitative"}, "y": {"field": "e2", "type": "quantitative"}}},
        {"data": {"name": "arrowsE"}, "transform": [{"filter": "datum.id === 'error'"}],
          "mark": {"type": "point", "shape": "M0,0L-1,-0.25L-1,0.25Z", "size": 576, "filled": true, "color": "black", "opacity": 1, "angle": 0},
          "encoding": {"x": {"field": "t2", "type": "quantitative"}, "y": {"field": "e2", "type": "quantitative"}}},
        {"data": {"name": "events"}, "mark": {"type": "point", "shape": "circle", "size": 256, "filled": false, "color": "#555", "strokeWidth": 1, "strokeDash": [1.5, 2.5], "opacity": 1}},
        {"data": {"name": "notesE"}, "mark": {"type": "text", "fontSize": 17, "align": "center", "baseline": "middle", "color": "black"},
          "encoding": {"text": {"field": "label"}}},
        {"data": {"name": "notesE2"}, "mark": {"type": "text", "fontSize": 23, "align": "center", "baseline": "middle", "color": "black"},
          "encoding": {"text": {"field": "label"}}}
      ]
    },
    {
      "data": {"name": "frame"},
      "mark": {"type": "point", "opacity": 0},
      "encoding": {
        "x": {"field": "k", "type": "quantitative", "scale": {"domain": [-100, 1100], "nice": false, "zero": false},
          "axis": {"orient": "top", "title": null, "values": [0,200,400,600,800,1000], "labelExpr": "'' + datum.value", "ticks": true, "tickSize": -9, "tickColor": "#202020", "tickWidth": 2.5, "labelPadding": 18}},
        "y": {"field": "e", "type": "quantitative", "scale": {"domain": [-6, 10], "nice": false, "zero": false},
          "axis": {"orient": "right", "title": null, "values": [-5,-3,-1,1,3,5,7,9], "labels": false, "domain": false, "ticks": true, "tickSize": -5, "tickColor": "#202020", "tickWidth": 2.5}}
      }
    },
    {
      "data": {"name": "frame"},
      "mark": {"type": "point", "opacity": 0},
      "encoding": {
        "x": {"field": "t", "type": "quantitative", "scale": {"domain": [0, 300], "nice": false, "zero": false},
          "axis": {"orient": "bottom", "title": null, "values": [30,90,150,210,270], "labels": false, "domain": false, "ticks": true, "tickSize": 5, "tickColor": "#202020", "tickWidth": 2.5}},
        "y": {"field": "v", "type": "quantitative", "scale": {"domain": [38, 47], "nice": false, "zero": false},
          "axis": {"orient": "left", "title": null, "values": [39,41,43,45,47], "labels": false, "domain": false, "ticks": true, "tickSize": 5, "tickColor": "#202020", "tickWidth": 2.5}}
      }
    },
    {
      "data": {"name": "frame"},
      "mark": {"type": "point", "opacity": 0},
      "encoding": {
        "x": {"field": "k", "type": "quantitative", "scale": {"domain": [-100, 1100], "nice": false, "zero": false},
          "axis": {"orient": "top", "title": null, "values": [-100,100,300,500,700,900,1100], "labels": false, "domain": false, "ticks": true, "tickSize": -5, "tickColor": "#202020", "tickWidth": 2.5}}
      }
    }
  ]
}
